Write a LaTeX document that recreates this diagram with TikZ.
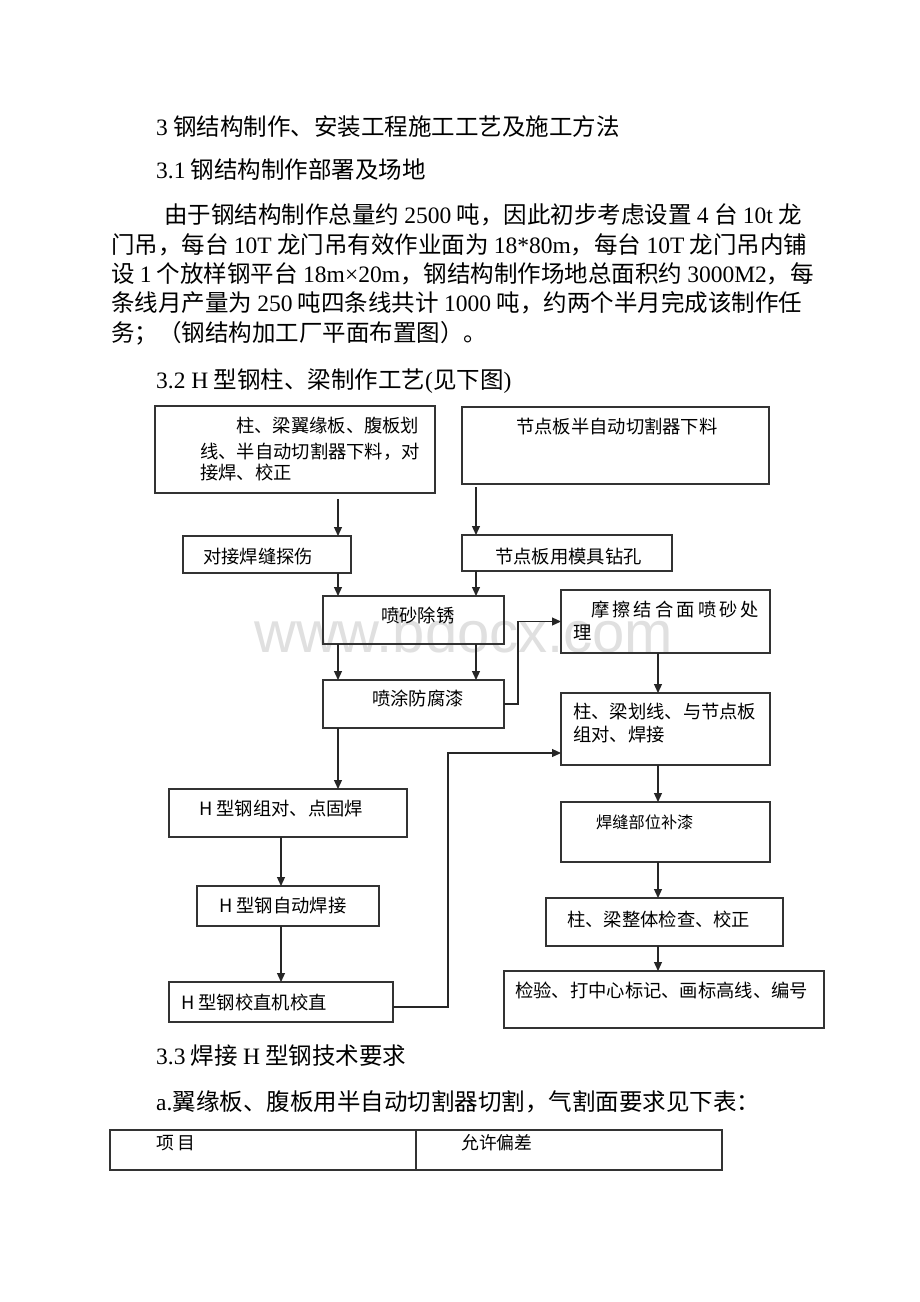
\documentclass[tikz,border=0pt]{standalone}
\usepackage{fontspec}
\setmainfont{Liberation Serif}
\newfontfamily\cjk{Noto Sans CJK SC}
\newfontfamily\wmfont{Liberation Sans}
\usetikzlibrary{arrows.meta}
\newcommand\lat[1]{{\rmfamily #1}}
\begin{document}
\begin{tikzpicture}[x=1pt,y=-1pt,
  box/.style={draw=black!80, line width=1.2pt, inner sep=0pt, outer sep=0pt},
  arr/.style={draw=black!85, line width=1.2pt, -{Triangle[length=9pt,width=8pt]}},
  ln/.style={draw=black!85, line width=1.2pt},
  bt/.style={font=\cjk\fontsize{18.3}{22}\selectfont, anchor=west, inner sep=0pt},
  st/.style={font=\cjk\fontsize{16.2}{20}\selectfont, anchor=west, inner sep=0pt},
  ht/.style={font=\cjk\fontsize{23.5}{28}\selectfont, anchor=west, inner sep=0pt}]
\useasboundingbox (0,0) rectangle (920,1302);
\fill[white] (0,0) rectangle (920,1302);

% watermark
\node[anchor=base west, inner sep=0pt, text=black!12, font=\wmfont\fontsize{58}{58}\selectfont] (wm) at (254,652) {www.bdocx.com};

% headings and paragraph
\node[ht] (h1) at (156,127) {\lat{3} 钢结构制作、安装工程施工工艺及施工方法};
\node[ht] (h2) at (156,170) {\lat{3.1} 钢结构制作部署及场地};
\node[ht] (p1) at (164,215) {由于钢结构制作总量约 \lat{2500} 吨，因此初步考虑设置 \lat{4} 台 \lat{10t} 龙};
\node[ht] (p2) at (111,245) {门吊，每台 \lat{10T} 龙门吊有效作业面为 \lat{18*80m}，每台 \lat{10T} 龙门吊内铺};
\node[ht] (p3) at (111,274) {设 \lat{1} 个放样钢平台 \lat{18m×20m}，钢结构制作场地总面积约 \lat{3000M2}，每};
\node[ht] (p4) at (111,303) {条线月产量为 \lat{250} 吨四条线共计 \lat{1000} 吨，约两个半月完成该制作任};
\node[ht] (p5) at (111,333) {务；（钢结构加工厂平面布置图）。};
\node[ht] (h3) at (156,381) {\lat{3.2 H} 型钢柱、梁制作工艺\lat{(}见下图\lat{)}};
\node[ht] (h4) at (156,1056) {\lat{3.3} 焊接 \lat{H} 型钢技术要求};
\node[ht] (h5) at (156,1102) {\lat{a.}翼缘板、腹板用半自动切割器切割，气割面要求见下表：};

% boxes
\node[box, minimum width=280pt, minimum height=87pt] (A) at (295,449.5) {};
\node[box, minimum width=307pt, minimum height=77pt] (B) at (615.5,445.5) {};
\node[box, minimum width=168pt, minimum height=37pt] (C) at (267,554.5) {};
\node[box, minimum width=210pt, minimum height=36pt] (D) at (567,553) {};
\node[box, minimum width=181pt, minimum height=48pt] (E) at (413.5,620) {};
\node[box, minimum width=209pt, minimum height=63pt] (F) at (665.5,621.5) {};
\node[box, minimum width=181pt, minimum height=48pt] (G) at (413.5,704) {};
\node[box, minimum width=209pt, minimum height=72pt] (H) at (665.5,729) {};
\node[box, minimum width=238pt, minimum height=48pt] (I) at (288,813) {};
\node[box, minimum width=182pt, minimum height=40pt] (J) at (288,906) {};
\node[box, minimum width=224pt, minimum height=40pt] (K) at (281,1002) {};
\node[box, minimum width=209pt, minimum height=60pt] (L) at (665.5,832) {};
\node[box, minimum width=237pt, minimum height=48pt] (M) at (664.5,922) {};
\node[box, minimum width=320pt, minimum height=57pt] (N) at (664,999.5) {};

% box texts
\node[bt] (tA1) at (236,426) {柱、梁翼缘板、腹板划};
\node[bt] (tA2) at (200,452) {线、半自动切割器下料，对};
\node[bt] (tA3) at (200,473) {接焊、校正};
\node[bt] (tB) at (516,427) {节点板半自动切割器下料};
\node[bt] (tC) at (203,557) {对接焊缝探伤};
\node[bt] (tD) at (495,557) {节点板用模具钻孔};
\node[bt] (tE) at (381,615) {喷砂除锈};
\node[bt] (tF1) at (591,609) {\hbox to 168pt{摩\hfil 擦\hfil 结\hfil 合\hfil 面\hfil 喷\hfil 砂\hfil 处}};
\node[bt] (tF2) at (573,633) {理};
\node[bt] (tG) at (372,699) {喷涂防腐漆};
\node[bt] (tH1) at (573,712) {柱、梁划线、与节点板};
\node[bt] (tH2) at (573,735) {组对、焊接};
\node[bt] (tI) at (199,809) {H 型钢组对、点固焊};
\node[bt] (tJ) at (219,906) {H 型钢自动焊接};
\node[bt] (tK) at (181,1002) {H 型钢校直机校直};
\node[st] (tL) at (596,822) {焊缝部位补漆};
\node[bt] (tM) at (567,919) {柱、梁整体检查、校正};
\node[bt] (tN) at (515,990) {检验、打中心标记、画标高线、编号};

% column coordinates
\coordinate (cL) at (338,0);
\coordinate (cR) at (476,0);
\coordinate (cS) at (281,0);
\coordinate (cH) at (658,0);
\coordinate (j1) at (518,0);
\coordinate (j2) at (448,0);

% arrows
\draw[arr] ([yshift=-6pt]A.south -| cL) -- (C.north -| cL);
\draw[arr] ([yshift=-3pt]B.south -| cR) -- (D.north -| cR);
\draw[arr] (C.south -| cL) -- (E.north -| cL);
\draw[arr] (D.south -| cR) -- (E.north -| cR);
\draw[arr] (E.south -| cL) -- (G.north -| cL);
\draw[arr] (E.south -| cR) -- (G.north -| cR);
\draw[arr] (G.south -| cL) -- (I.north -| cL);
\draw[arr] (I.south -| cS) -- (J.north -| cS);
\draw[arr] (J.south -| cS) -- (K.north -| cS);
\draw[arr] (G.east) -- (G.east -| j1) |- (F.west);
\coordinate (kr) at ([yshift=-5pt]K.east);
\coordinate (hl) at ([yshift=-24pt]H.west);
\draw[arr] (kr) -- (kr -| j2) |- (hl);
\draw[arr] (F.south -| cH) -- (H.north -| cH);
\draw[arr] (H.south -| cH) -- (L.north -| cH);
\draw[arr] (L.south -| cH) -- (M.north -| cH);
\draw[arr] (M.south -| cH) -- (N.north -| cH);

% table
\node[box, minimum width=306pt, minimum height=40pt] (T1) at (263,1150) {};
\node[box, minimum width=306pt, minimum height=40pt] (T2) at (569,1150) {};
\node[bt, font=\cjk\fontsize{17.8}{22}\selectfont] (tT1) at (156,1143) {项 目};
\node[bt, font=\cjk\fontsize{17.8}{22}\selectfont] (tT2) at (461,1143) {允许偏差};
\end{tikzpicture}
\end{document}
